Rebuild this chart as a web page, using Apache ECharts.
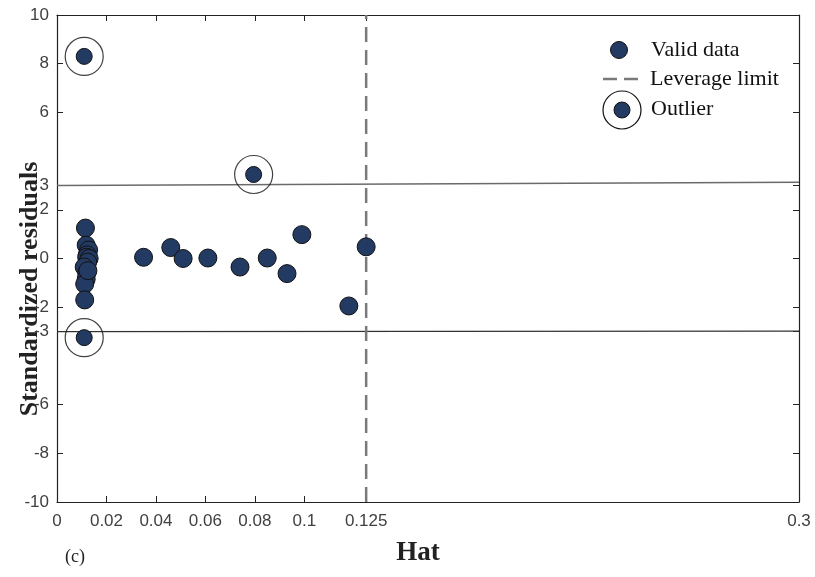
<!DOCTYPE html>
<html><head><meta charset="utf-8">
<script src="https://cdn.jsdelivr.net/npm/echarts@6/dist/echarts.min.js"></script>
<style>html,body{margin:0;padding:0;background:#fff}#c{width:815px;height:577px}</style>
</head><body><div id="c"></div>
<script>
// Valid data points (hat, standardized residual)
const validHat = [0.0115,0.0118,0.0128,0.0122,0.0120,0.0130,0.0124,0.0110,0.0120,0.0118,0.0112,0.0125,0.0112,
  0.035,0.046,0.051,0.061,0.074,0.085,0.093,0.099,0.125,0.118];
const validRes = [1.25,0.55,0.35,0.15,0.05,0.0,-0.15,-0.35,-0.6,-0.85,-1.05,-0.5,-1.7,
  0.05,0.45,0.0,0.02,-0.35,0.02,-0.62,0.98,0.48,-1.95];
// Outliers
const outHat = [0.011,0.0795,0.011];
const outRes = [8.3,3.45,-3.25];
// Reference lines
const upperLimit = [[0,3.0],[0.3,3.13]];
const lowerLimit = [[0,-3.0],[0.3,-2.98]];
const leverageLimit = 0.125;
// Ticks
const xTicks = [0,0.02,0.04,0.06,0.08,0.1,0.125,0.3];
const yTicks = [-10,-8,-6,-3,-2,0,2,3,6,8,10];

const validData = validHat.map((h,i)=>[h,validRes[i]]);
const outData = outHat.map((h,i)=>[h,outRes[i]]);
const navy = '#233a63';
const tickFont = {fontFamily:'Liberation Sans, Arial, sans-serif', fontSize:17, color:'#404040'};
const serif = 'Liberation Serif, Times New Roman, serif';
const axLine = {onZero:false,lineStyle:{color:'#222',width:1.2}};

const chart = echarts.init(document.getElementById('c'));
chart.setOption({
  animation:false,
  grid:{left:57,right:16,top:15,bottom:75},
  xAxis:[{
    type:'value',min:0,max:0.3,position:'bottom',
    axisLine:axLine,
    axisTick:{inside:true,length:6,customValues:xTicks,lineStyle:{color:'#222'}},
    axisLabel:Object.assign({customValues:xTicks,margin:11,formatter:v=>String(+v.toFixed(3))},tickFont),
    splitLine:{show:false}
  },{
    type:'value',min:0,max:0.3,position:'top',
    axisLine:axLine,
    axisTick:{inside:true,length:6,customValues:xTicks,lineStyle:{color:'#222'}},
    axisLabel:{show:false},splitLine:{show:false}
  }],
  yAxis:[{
    type:'value',min:-10,max:10,position:'left',
    axisLine:axLine,
    axisTick:{inside:true,length:6,customValues:yTicks,lineStyle:{color:'#222'}},
    axisLabel:Object.assign({customValues:yTicks,margin:8},tickFont),
    splitLine:{show:false}
  },{
    type:'value',min:-10,max:10,position:'right',
    axisLine:axLine,
    axisTick:{inside:true,length:6,customValues:yTicks,lineStyle:{color:'#222'}},
    axisLabel:{show:false},splitLine:{show:false}
  }],
  series:[
    {type:'line',data:upperLimit,symbol:'none',lineStyle:{color:'#6a6a6a',width:1.5},z:1},
    {type:'line',data:lowerLimit,symbol:'none',lineStyle:{color:'#333',width:1.3},z:1},
    {type:'line',data:[[leverageLimit,-10],[leverageLimit,10]],symbol:'none',
      lineStyle:{color:'#7a7a7a',width:2.5,type:[15,8]},z:1},
    {name:'Valid data',type:'scatter',data:validData,symbolSize:18,
      itemStyle:{color:navy,borderColor:'#111',borderWidth:1,opacity:1},z:3},
    {name:'Outlier',type:'scatter',data:outData,symbolSize:16,
      itemStyle:{color:navy,borderColor:'#111',borderWidth:1,opacity:1},z:3},
    {name:'OutlierRing',type:'scatter',data:outData,symbolSize:38,
      itemStyle:{color:'rgba(0,0,0,0)',borderColor:'#111',borderWidth:1.2},z:2}
  ],
  graphic:[
    {type:'text',x:30,y:289,rotation:Math.PI/2,
      style:{text:'Standardized residuals',font:'bold 26px '+serif,fill:'#222',align:'center',verticalAlign:'middle'}},
    {type:'text',x:418,y:553,
      style:{text:'Hat',font:'bold 27px '+serif,fill:'#222',align:'center',verticalAlign:'middle'}},
    {type:'text',x:65,y:557,
      style:{text:'(c)',font:'18px '+serif,fill:'#222',align:'left',verticalAlign:'middle'}},
    // legend
    {type:'circle',shape:{cx:619,cy:50,r:8.5},style:{fill:navy,stroke:'#111',lineWidth:1}},
    {type:'text',x:651,y:50,style:{text:'Valid data',font:'22px '+serif,fill:'#111',verticalAlign:'middle'}},
    {type:'line',shape:{x1:603,y1:79,x2:643,y2:79},style:{stroke:'#7a7a7a',lineWidth:2.5,lineDash:[14,7]}},
    {type:'text',x:650,y:79,style:{text:'Leverage limit',font:'22px '+serif,fill:'#111',verticalAlign:'middle'}},
    {type:'circle',shape:{cx:622,cy:110,r:19},style:{fill:'none',stroke:'#111',lineWidth:1.2}},
    {type:'circle',shape:{cx:622,cy:110,r:8},style:{fill:navy,stroke:'#111',lineWidth:1}},
    {type:'text',x:651,y:109,style:{text:'Outlier',font:'22px '+serif,fill:'#111',verticalAlign:'middle'}}
  ]
});
</script></body></html>
